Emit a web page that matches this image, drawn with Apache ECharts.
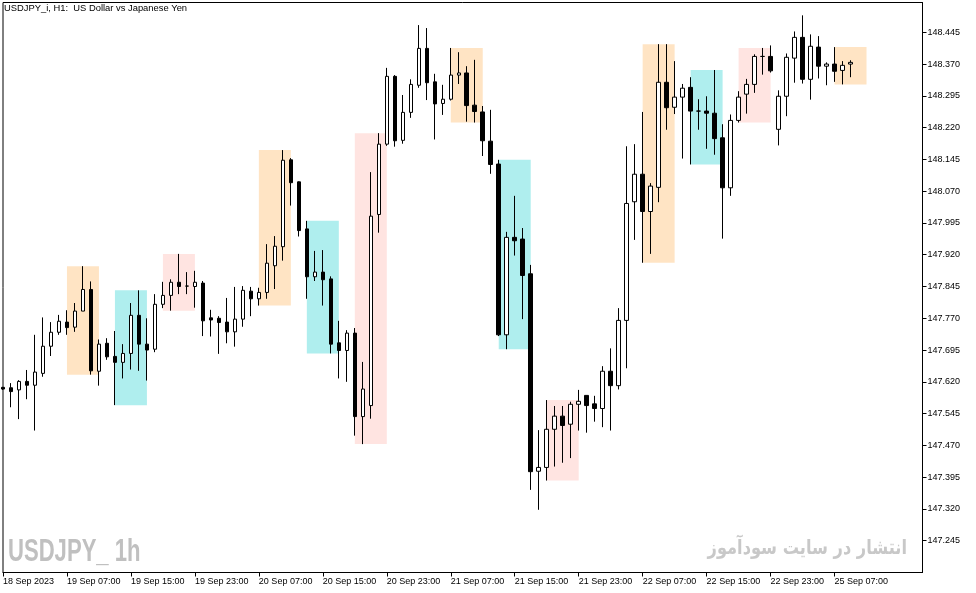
<!DOCTYPE html>
<html>
<head>
<meta charset="utf-8">
<script src="https://cdn.jsdelivr.net/npm/echarts@6/dist/echarts.min.js"></script>
<style>
html,body{margin:0;padding:0;background:#fff;}
#chart{width:976px;height:593px;}
</style>
</head>
<body>
<div id="chart"></div>
<script>
// ---- data (USDJPY_i H1) ----
const openP = [147.607,147.606,147.601,147.621,147.612,147.640,147.704,147.737,147.761,147.749,
147.787,147.838,147.645,147.711,147.680,147.666,147.687,147.777,147.709,147.697,
147.803,147.824,147.855,147.846,147.845,147.853,147.771,147.770,147.761,147.738,
147.768,147.834,147.816,147.831,147.894,147.939,148.144,148.092,147.981,147.868,
147.879,147.863,147.712,147.694,147.735,147.538,147.564,148.015,148.181,148.341,
148.190,148.256,148.320,148.407,148.328,148.277,148.287,148.344,148.349,148.273,
148.257,148.188,148.134,147.731,147.961,147.957,147.875,147.409,147.418,147.508,
147.539,147.520,147.567,147.588,147.568,147.557,147.645,147.611,147.765,148.045,
148.110,148.022,148.079,148.327,148.268,148.292,148.315,148.259,148.259,148.254,
148.196,148.078,148.237,148.299,148.322,148.388,148.388,148.216,148.294,148.384,
148.433,148.334,148.410,148.365,148.370,148.355,148.370];
const closeP = [147.603,147.597,147.621,147.612,147.643,147.704,147.737,147.763,147.748,147.787,
147.838,147.646,147.709,147.679,147.666,147.687,147.777,147.709,147.695,147.803,
147.824,147.855,147.845,147.846,147.855,147.764,147.766,147.760,147.738,147.768,
147.836,147.816,147.831,147.900,147.940,148.143,148.090,147.977,147.868,147.879,
147.861,147.709,147.694,147.735,147.538,147.603,148.011,148.181,148.341,148.189,
148.256,148.322,148.407,148.326,148.276,148.287,148.344,148.349,148.272,148.258,
148.189,148.133,147.731,147.961,147.953,147.871,147.408,147.418,147.508,147.539,
147.517,147.567,147.574,147.564,147.557,147.645,147.611,147.765,148.041,148.110,
148.022,148.082,148.327,148.267,148.292,148.313,148.259,148.259,148.254,148.194,
148.078,148.237,148.292,148.322,148.388,148.388,148.354,148.294,148.386,148.433,
148.334,148.412,148.365,148.370,148.353,148.367,148.374];
const highP = [147.608,147.617,147.624,147.648,147.731,147.772,147.761,147.778,147.789,147.806,
147.893,147.857,147.720,147.723,147.740,147.709,147.806,147.836,147.770,147.827,
147.856,147.862,147.922,147.879,147.882,147.858,147.790,147.775,147.818,147.844,
147.846,147.844,147.842,147.945,147.964,148.167,148.148,148.093,148.000,147.929,
147.931,147.869,147.764,147.742,147.747,147.667,148.115,148.207,148.361,148.344,
148.297,148.334,148.462,148.455,148.347,148.321,148.408,148.398,148.365,148.380,
148.271,148.262,148.144,147.974,148.059,147.983,147.896,147.506,147.577,147.563,
147.563,147.573,147.601,147.588,147.587,147.657,147.699,147.794,148.176,148.181,
148.257,148.089,148.417,148.417,148.377,148.323,148.339,148.287,148.294,148.356,
148.228,148.251,148.306,148.335,148.393,148.408,148.414,148.308,148.395,148.447,
148.485,148.440,148.436,148.374,148.410,148.377,148.379];
const lowP = [147.601,147.560,147.532,147.579,147.505,147.632,147.681,147.731,147.731,147.738,
147.787,147.637,147.611,147.672,147.565,147.628,147.649,147.646,147.623,147.690,
147.794,147.788,147.827,147.827,147.795,147.728,147.727,147.686,147.711,147.703,
147.750,147.775,147.800,147.816,147.839,147.906,148.036,147.963,147.816,147.858,
147.800,147.687,147.628,147.620,147.493,147.473,147.533,147.972,148.177,148.175,
148.182,148.243,148.314,148.285,148.192,148.250,148.284,148.323,148.234,148.232,
148.153,148.111,147.728,147.697,147.918,147.768,147.365,147.318,147.387,147.420,
147.429,147.440,147.505,147.500,147.526,147.513,147.505,147.602,147.652,147.955,
147.901,147.922,148.044,148.215,148.252,148.147,148.133,148.215,148.170,148.156,
147.958,148.059,148.232,148.253,148.302,148.345,148.350,148.178,148.247,148.326,
148.324,148.286,148.336,148.320,148.328,148.322,148.339];

// x-axis tick labels, one every 8 bars starting at bar 0
const timeLabels = ['18 Sep 2023','19 Sep 07:00','19 Sep 15:00','19 Sep 23:00','20 Sep 07:00',
  '20 Sep 15:00','20 Sep 23:00','21 Sep 07:00','21 Sep 15:00','21 Sep 23:00',
  '22 Sep 07:00','22 Sep 15:00','22 Sep 23:00','25 Sep 07:00'];
// price scale ticks
const priceTicks = [147.245,147.320,147.395,147.470,147.545,147.620,147.695,147.770,147.845,
  147.920,147.995,148.070,148.145,148.220,148.295,148.370,148.445];
// session boxes: starting bar and colour slot
const sessionStarts = [8,14,20,32,38,44,56,62,68,80,86,92,104];
const sessionKinds  = [0,1,2,0,1,2,0,1,2,0,1,2,0];
const sessionColors = ['#FFE4C4','#AFEEEE','#FFE4E1'];
const sessionBars = 4;
const totalSlots = 116;

const titleText = 'USDJPY_i, H1:  US Dollar vs Japanese Yen';

// ---- build ----
const categories = Array.from({length: totalSlots}, (_, i) => String(i));
const candleData = openP.map((o, i) => [o, closeP[i], lowP[i], highP[i]]);
const boxData = sessionStarts.map((s, k) => {
  const hs = highP.slice(s, s + sessionBars), ls = lowP.slice(s, s + sessionBars);
  return [s, s + sessionBars, Math.max(...hs), Math.min(...ls), sessionKinds[k]];
});

const chart = echarts.init(document.getElementById('chart'), null, {renderer: 'canvas'});
const FONT = '"Liberation Sans", Arial, sans-serif';

chart.setOption({
  animation: false,
  backgroundColor: '#ffffff',
  grid: {left: 2.5, top: 2.5, width: 920, height: 570, show: true, borderColor: '#000', borderWidth: 1, backgroundColor: 'transparent'},
  xAxis: {
    type: 'category', data: categories, boundaryGap: false,
    axisLine: {show: true, lineStyle: {color: '#000', width: 1}},
    axisTick: {show: true, length: 4, lineStyle: {color: '#000'},
      interval: (i) => i % 8 === 0 && (i / 8) < timeLabels.length},
    axisLabel: {show: true, color: '#000', fontFamily: FONT, fontSize: 9, align: 'left', margin: 5,
      interval: (i) => i % 8 === 0 && (i / 8) < timeLabels.length,
      formatter: (v) => { const i = +v; return (i % 8 === 0 && timeLabels[i / 8]) ? timeLabels[i / 8] : ''; }},
    splitLine: {show: false}
  },
  yAxis: {
    type: 'value', position: 'right', min: 147.170, max: 148.5153, scale: true,
    axisLine: {show: true, lineStyle: {color: '#000', width: 1}},
    axisTick: {show: true, length: 4, lineStyle: {color: '#000'}, customValues: priceTicks},
    axisLabel: {show: true, color: '#000', fontFamily: FONT, fontSize: 9, margin: 5,
      customValues: priceTicks, formatter: (v) => v.toFixed(3)},
    splitLine: {show: false}
  },
  series: [
    {
      type: 'custom', z: 1, silent: true, clip: true,
      data: boxData,
      encode: {x: [0, 1], y: [2, 3]},
      renderItem: (params, api) => {
        const p1 = api.coord([api.value(0), api.value(2)]);
        const p2 = api.coord([api.value(1), api.value(3)]);
        return {type: 'rect', shape: {x: p1[0], y: p1[1], width: p2[0] - p1[0], height: p2[1] - p1[1]},
          style: {fill: sessionColors[api.value(4)]}};
      }
    },
    {
      type: 'candlestick', z: 2, barWidth: 4, clip: true,
      data: candleData,
      itemStyle: {color: '#ffffff', color0: '#000000', borderColor: '#000000', borderColor0: '#000000', borderWidth: 1}
    }
  ],
  graphic: [
    {type: 'text', x: 4, y: 4, z: 10, style: {text: titleText, font: '9.4px ' + FONT, fill: '#000', align: 'left', verticalAlign: 'top'}},
    {type: 'text', x: 8, y: 536, scaleX: 0.69, z: 10, style: {text: 'USDJPY_ 1h', font: 'bold 32px "Liberation Sans", Arial, sans-serif', fill: '#c0c0c0', align: 'left', verticalAlign: 'top'}},
    {type: 'text', x: 907, y: 539, scaleX: 0.81, z: 10, style: {text: 'انتشار در سایت سودآموز', font: 'bold 20px "DejaVu Sans", sans-serif', fill: '#c8c8c8', align: 'right', verticalAlign: 'top'}}
  ]
});
</script>
</body>
</html>
